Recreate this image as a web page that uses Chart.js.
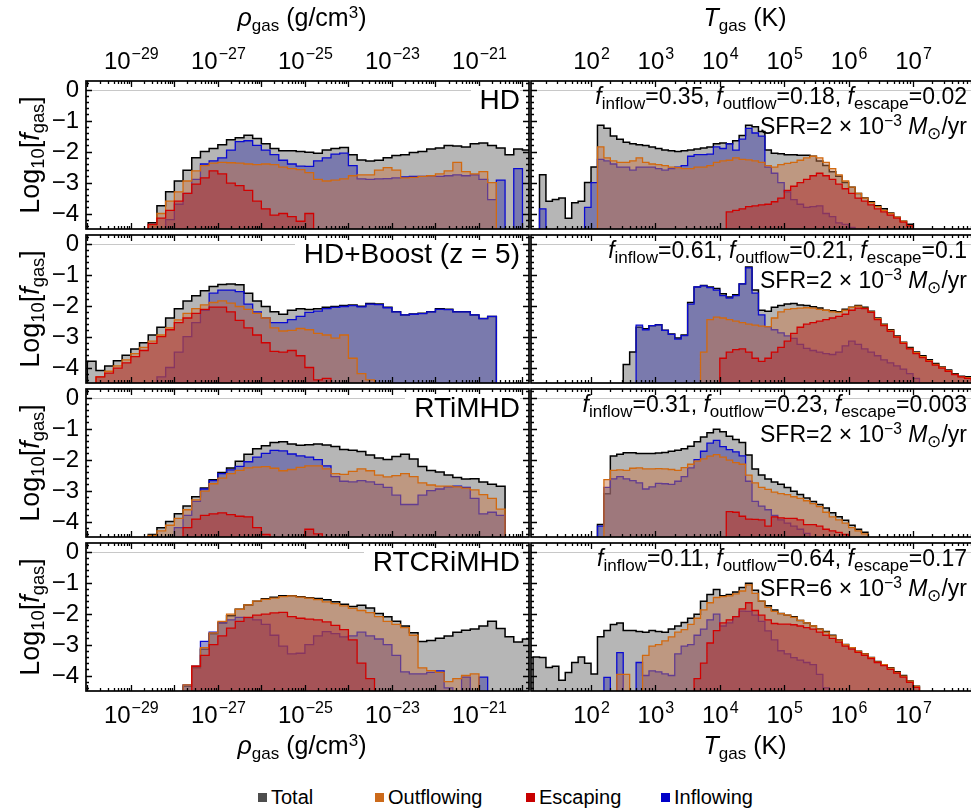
<!DOCTYPE html>
<html>
<head>
<meta charset="utf-8">
<script src="https://cdn.jsdelivr.net/npm/chart.js@4.4.1/dist/chart.umd.min.js"></script>
<style>
  html, body { margin: 0; padding: 0; background: #fff; }
  body { width: 971px; height: 811px; position: relative; overflow: hidden;
         font-family: "Liberation Sans", Arial, Helvetica, sans-serif; color: #000; }
  canvas { position: absolute; }
  .txt { position: absolute; white-space: nowrap; line-height: 1; }
  sub { font-size: 0.68em; vertical-align: -0.28em; line-height: 0; }
  sup { font-size: 0.68em; vertical-align: 0.5em; line-height: 0; }
  .title { font-size: 25px; text-align: center; width: 260px; }
  .ytitle { font-size: 27px; width: 180px; height: 30px; line-height: 30px; text-align: center; transform: rotate(-90deg); }
  .run { font-size: 28px; text-align: right; background: #fff; padding-left: 9px; }
  .ann { font-size: 23px; text-align: right; right: 4px; }
  .ann sub { font-size: 0.74em; }
  .leg { position: absolute; top: 787px; font-size: 20px; line-height: 20px; display: flex; align-items: center; white-space: nowrap; }
  .leg span { display: inline-block; width: 9px; height: 9px; margin-right: 4px; }
</style>
</head>
<body>
<script>
// ---------------------------------------------------
// data: log10 of gas fraction per bin (null = no gas, E = empty bin inside)
// ---------------------------------------------------
const _ = null;
const E = -9;
const pad = n => Array(n).fill(null);

// bin left edges, log10(rho) in 0.2 dex and log10(T) in 0.1 dex
const rhoBins = [-30.0,-29.8,-29.6,-29.4,-29.2,-29.0,-28.8,-28.6,-28.4,-28.2,-28.0,-27.8,-27.6,-27.4,-27.2,-27.0,-26.8,-26.6,-26.4,-26.2,-26.0,-25.8,-25.6,-25.4,-25.2,-25.0,-24.8,-24.6,-24.4,-24.2,-24.0,-23.8,-23.6,-23.4,-23.2,-23.0,-22.8,-22.6,-22.4,-22.2,-22.0,-21.8,-21.6,-21.4,-21.2,-21.0,-20.8,-20.6,-20.4,-20.2,-20.0];
const tBins = [1.0,1.1,1.2,1.3,1.4,1.5,1.6,1.7,1.8,1.9,2.0,2.1,2.2,2.3,2.4,2.5,2.6,2.7,2.8,2.9,3.0,3.1,3.2,3.3,3.4,3.5,3.6,3.7,3.8,3.9,4.0,4.1,4.2,4.3,4.4,4.5,4.6,4.7,4.8,4.9,5.0,5.1,5.2,5.3,5.4,5.5,5.6,5.7,5.8,5.9,6.0,6.1,6.2,6.3,6.4,6.5,6.6,6.7,6.8,6.9,7.0,7.1,7.2,7.3,7.4,7.5,7.6,7.7,7.8,7.9];
const rhoWidth = 0.2;
const tWidth = 0.1;

const rhoTickLabels = [-29, -27, -25, -23, -21];
const tTickLabels = [2, 3, 4, 5, 6, 7];
const yTicks = [0, -1, -2, -3, -4];

const runLabels = ['HD', 'HD+Boost (z = 5)', 'RTiMHD', 'RTCRiMHD'];
const fInflow = ['0.35', '0.61', '0.31', '0.11'];
const fOutflow = ['0.18', '0.21', '0.23', '0.64'];
const fEscape = ['0.02', '0.1', '0.003', '0.17'];
const sfrCoef = ['2', '2', '2', '6'];

// HD
const hdRhoTotal = [...pad(7),-4.3,-3.75,-3.3,-2.95,-2.6,-2.2,-2.0,-1.9,-1.78,-1.62,-1.55,-1.47,-1.58,-1.75,-1.9,-1.97,-1.97,-2.0,-2.02,-2.05,-1.95,-1.9,-1.87,-2.1,-2.27,-2.3,-2.28,-2.2,-2.13,-2.1,-2.03,-2.0,-1.92,-1.88,-1.8,-1.82,-1.85,-1.75,-1.72,-1.8,-1.88,-2.1,-1.92,-1.95];
const hdRhoOut = [...pad(7),-4.4,-4.0,-3.6,-3.3,-2.95,-2.62,-2.45,-2.37,-2.35,-2.36,-2.37,-2.4,-2.42,-2.4,-2.42,-2.5,-2.55,-2.58,-2.68,-2.9,-2.95,-2.92,-2.88,-2.78,-2.75,-2.75,-2.6,-2.52,-2.6,-2.85,-2.83,-2.8,-2.78,-2.72,-2.62,-2.35,-2.65,-2.72,-2.65,-3.0,...pad(4)];
const hdRhoEsc = [...pad(7),-4.35,-4.15,-3.9,-3.6,-3.35,-3.05,-2.85,-2.62,-2.72,-3.02,-3.1,-3.25,-3.6,-3.85,-4.05,-4.0,-4.1,-4.25,-4.0,...pad(25)];
const hdRhoIn = [...pad(9),-4.2,-3.7,-3.35,-2.9,-2.4,-2.3,-2.2,-1.95,-1.68,-1.65,-1.8,-1.95,-2.1,-2.28,-2.4,-2.47,-2.48,-2.3,-2.2,-2.08,-2.05,-2.45,-2.88,-2.9,-2.88,-2.87,-2.85,-2.82,-2.8,-2.8,-2.78,-2.8,-2.78,-2.75,-2.78,-2.75,-2.9,-3.55,-2.92,E,-2.55,_];
const hdTTotal = [_,_,-2.75,-3.6,-3.55,-3.5,-4.15,-3.65,-3.6,-3.0,-2.5,-1.15,-1.25,-1.5,-1.6,-1.7,-1.75,-1.78,-1.8,-1.85,-1.9,-1.95,-1.97,-2.0,-1.97,-1.95,-1.92,-1.88,-1.85,-1.75,-1.72,-1.75,-1.65,-1.48,-1.15,-1.2,-1.35,-1.95,-2.05,-2.07,-2.1,-2.1,-2.12,-2.12,-2.15,-2.3,-2.45,-2.65,-2.8,-3.0,-3.15,-3.35,-3.5,-3.62,-3.75,-3.85,-3.98,-4.12,-4.25,-4.35,...pad(10)];
const hdTIn = [_,_,-3.85,E,E,E,E,E,E,-3.8,-3.0,-2.25,-2.3,-2.4,-2.5,-2.5,-2.6,-2.5,-2.5,-2.5,-2.55,-2.6,-2.55,-2.5,-2.45,-2.15,-2.1,-2.1,-2.08,-1.85,-1.9,-1.75,-1.95,-1.6,-1.25,-1.4,-1.5,-2.5,-2.7,-3.0,-3.3,-3.55,-3.7,-3.8,-3.78,-3.75,-4.0,-4.1,-4.3,-4.35,-4.45,...pad(19)];
const hdTOut = [...pad(11),-1.85,-2.2,-2.3,-2.35,-2.35,-2.3,-2.2,-2.35,-2.4,-2.42,-2.45,-2.5,-2.52,-2.55,-2.55,-2.5,-2.5,-2.45,-2.35,-2.3,-2.28,-2.2,-2.25,-2.27,-2.3,-2.35,-2.45,-2.5,-2.42,-2.38,-2.35,-2.28,-2.2,-2.15,-2.2,-2.35,-2.55,-2.75,-2.95,-3.15,-3.35,-3.5,-3.65,-3.78,-3.9,-4.0,-4.12,-4.25,-4.4,...pad(10)];
const hdTEsc = [...pad(31),-3.95,-3.9,-3.85,-3.78,-3.75,-3.72,-3.7,-3.62,-3.5,-3.25,-3.12,-3.0,-2.9,-2.78,-2.7,-2.78,-2.9,-3.05,-3.2,-3.35,-3.5,-3.6,-3.72,-3.85,-3.95,-4.05,-4.15,-4.28,-4.4,...pad(10)];

// HD+Boost (z = 5)
const boostRhoTotal = [-3.8,-4.1,-3.95,-3.78,-3.6,-3.4,-3.2,-2.95,-2.7,-2.4,-2.1,-1.85,-1.68,-1.52,-1.38,-1.32,-1.3,-1.33,-1.6,-1.85,-2.03,-2.2,-2.28,-2.15,-2.1,-2.13,-2.1,-2.05,-2.03,-2.0,-1.98,-2.02,-1.93,-1.95,-2.05,-2.2,-2.3,-2.27,-2.25,-2.2,-2.1,-2.12,-2.2,-2.2,-2.3,-2.42,-2.35,...pad(4)];
const boostRhoIn = [...pad(8),-4.3,-4.0,-3.5,-3.0,-2.55,-2.15,-1.6,-1.5,-1.5,-1.55,-1.95,-2.2,-2.4,-2.55,-2.55,-2.45,-2.35,-2.22,-2.18,-2.1,-2.06,-2.03,-2.0,-2.04,-1.95,-1.97,-2.07,-2.2,-2.3,-2.28,-2.26,-2.2,-2.12,-2.13,-2.2,-2.2,-2.3,-2.42,-2.35,...pad(4)];
const boostRhoOut = [_,-4.3,-4.12,-3.95,-3.75,-3.55,-3.35,-3.15,-2.95,-2.72,-2.46,-2.25,-2.1,-1.98,-1.9,-1.85,-1.92,-2.03,-2.12,-2.25,-2.4,-2.72,-2.82,-2.8,-2.74,-2.78,-2.9,-2.95,-3.05,-2.95,-3.7,-4.2,-4.4,...pad(18)];
const boostRhoEsc = [_,-4.3,-4.18,-4.02,-3.85,-3.65,-3.45,-3.22,-3.0,-2.78,-2.55,-2.4,-2.25,-2.12,-2.05,-2.05,-2.2,-2.48,-2.72,-2.95,-3.2,-3.48,-3.5,-3.45,-3.62,-4.0,-4.4,-4.35,...pad(23)];
const boostTTotal = [...pad(15),-3.9,-3.5,-2.7,-2.75,-2.65,-2.62,-2.8,-2.92,-3.05,-2.95,-1.9,-1.4,-1.35,-1.4,-1.45,-1.62,-1.72,-1.65,-1.3,-0.75,-1.5,-2.15,-2.18,-2.05,-2.0,-1.95,-1.93,-1.98,-2.0,-2.04,-2.08,-2.15,-2.17,-2.2,-2.12,-2.05,-2.0,-2.05,-2.18,-2.4,-2.6,-2.78,-2.98,-3.18,-3.35,-3.5,-3.62,-3.75,-3.87,-3.98,-4.08,-4.2,-4.28,-4.3,-4.35];
const boostTIn = [...pad(17),-2.63,-2.78,-2.65,-2.62,-2.8,-2.93,-3.08,-2.97,-1.95,-1.4,-1.36,-1.42,-1.5,-1.68,-1.76,-1.68,-1.3,-0.78,-1.6,-2.3,-2.68,-2.78,-2.88,-2.98,-3.06,-3.25,-3.38,-3.45,-3.5,-3.55,-3.58,-3.5,-3.3,-3.15,-3.25,-3.4,-3.5,-3.62,-3.75,-3.85,-3.95,-4.05,-4.2,-4.35,...pad(9)];
const boostTOut = [...pad(27),-3.5,-2.45,-2.37,-2.4,-2.45,-2.5,-2.55,-2.6,-2.63,-2.66,-2.68,-2.4,-2.2,-2.12,-2.1,-2.08,-2.07,-2.08,-2.12,-2.15,-2.2,-2.22,-2.15,-2.06,-2.02,-2.08,-2.2,-2.42,-2.62,-2.8,-3.0,-3.2,-3.38,-3.52,-3.65,-3.78,-3.9,-4.0,-4.1,-4.22,-4.3,-4.33,-4.38];
const boostTEsc = [...pad(30),-3.7,-3.5,-3.42,-3.4,-3.5,-3.7,-3.8,-3.7,-3.5,-3.35,-3.15,-2.9,-2.7,-2.6,-2.55,-2.5,-2.45,-2.4,-2.35,-2.28,-2.15,-2.08,-2.1,-2.22,-2.45,-2.65,-2.83,-3.02,-3.22,-3.4,-3.55,-3.68,-3.8,-3.92,-4.02,-4.12,-4.23,-4.3,-4.35,-4.4];

// RTiMHD
const rtRhoTotal = [...pad(7),-4.42,-4.2,-4.0,-3.75,-3.5,-3.2,-2.92,-2.65,-2.42,-2.27,-2.05,-1.83,-1.65,-1.55,-1.45,-1.42,-1.5,-1.54,-1.52,-1.5,-1.53,-1.58,-1.67,-1.7,-1.74,-1.85,-1.95,-2.0,-1.9,-1.83,-1.98,-2.22,-2.35,-2.4,-2.5,-2.58,-2.63,-2.62,-2.72,-2.8,-2.86,_,_,_];
const rtRhoOut = [...pad(7),-4.45,-4.3,-4.12,-3.9,-3.62,-3.3,-3.02,-2.78,-2.6,-2.45,-2.35,-2.27,-2.24,-2.23,-2.28,-2.36,-2.32,-2.25,-2.2,-2.2,-2.3,-2.45,-2.48,-2.38,-2.3,-2.36,-2.5,-2.56,-2.52,-2.45,-2.55,-2.75,-2.82,-2.86,-2.86,-2.88,-2.92,-2.98,-3.13,-3.25,-3.6,_,_,_];
const rtRhoIn = [...pad(10),-4.2,-3.8,-3.35,-2.95,-2.68,-2.45,-2.33,-2.22,-2.07,-1.92,-1.8,-1.7,-1.72,-1.82,-1.88,-1.92,-2.0,-2.2,-2.55,-2.7,-2.72,-2.68,-2.72,-2.8,-2.9,-3.15,-3.45,-3.45,-3.15,-3.0,-2.95,-2.88,-2.86,-2.9,-3.25,-3.75,-3.7,-3.8,_,_,_];
const rtRhoEsc = [...pad(11),-4.2,-3.92,-3.8,-3.75,-3.72,-3.78,-3.83,-3.85,-4.2,-4.42,E,E,E,E,-4.25,-4.4,...pad(24)];
const rtTTotal = [...pad(11),-4.1,-3.1,-1.88,-1.83,-1.78,-1.78,-1.8,-1.8,-1.8,-1.79,-1.77,-1.73,-1.7,-1.65,-1.57,-1.42,-1.27,-1.13,-1.02,-1.1,-1.25,-1.35,-1.45,-1.85,-2.3,-2.5,-2.63,-2.72,-2.8,-2.9,-3.02,-3.13,-3.24,-3.35,-3.45,-3.56,-3.72,-3.85,-3.96,-4.12,-4.25,-4.35,...pad(17)];
const rtTIn = [...pad(11),-4.15,-2.9,-2.62,-2.55,-2.62,-2.68,-2.75,-2.95,-2.88,-2.77,-2.78,-2.8,-2.7,-2.55,-2.27,-2.0,-1.73,-1.47,-1.38,-1.58,-1.68,-1.75,-1.88,-2.7,-3.35,-3.5,-3.62,-3.8,-3.95,-4.05,-4.15,-4.25,-4.38,...pad(26)];
const rtTOut = [...pad(12),-2.65,-2.35,-2.33,-2.35,-2.28,-2.27,-2.3,-2.3,-2.29,-2.3,-2.32,-2.35,-2.26,-2.15,-2.05,-1.98,-1.89,-1.84,-1.92,-2.02,-2.1,-2.15,-2.5,-2.75,-2.9,-2.96,-3.05,-3.1,-3.13,-3.2,-3.25,-3.33,-3.42,-3.52,-3.7,-3.85,-3.95,-4.05,-4.2,-4.3,-4.4,...pad(17)];
const rtTEsc = [...pad(31),-3.68,-3.7,-3.83,-3.92,-3.93,-3.95,-4.15,-3.85,-3.88,-3.9,-3.9,-3.95,-4.1,-4.1,-4.15,-4.25,-4.3,-4.35,-4.42,...pad(20)];

// RTCRiMHD
const crRhoTotal = [...pad(11),-4.35,-3.75,-3.15,-2.65,-2.3,-2.07,-1.86,-1.72,-1.6,-1.52,-1.47,-1.42,-1.42,-1.46,-1.49,-1.51,-1.55,-1.62,-1.7,-1.77,-1.73,-1.82,-2.0,-2.1,-2.25,-2.4,-2.62,-2.9,-2.87,-2.8,-2.72,-2.6,-2.54,-2.5,-2.4,-2.25,-2.48,-2.75,-2.92,-2.82];
const crRhoOut = [...pad(11),-4.3,-3.7,-3.1,-2.62,-2.25,-2.02,-1.86,-1.72,-1.6,-1.54,-1.5,-1.45,-1.43,-1.47,-1.5,-1.55,-1.62,-1.68,-1.75,-1.83,-1.9,-1.97,-2.1,-2.25,-2.35,-2.45,-2.7,-3.75,-3.84,-3.9,-4.2,-4.1,-4.0,-3.95,...pad(6)];
const crRhoEsc = [...pad(12),-3.7,-3.35,-3.0,-2.72,-2.47,-2.25,-2.12,-2.05,-2.02,-1.98,-1.96,-2.1,-2.15,-2.18,-2.2,-2.27,-2.38,-2.52,-2.85,-3.6,-4.1,...pad(18)];
const crRhoIn = [...pad(11),-4.3,-3.7,-2.9,-2.6,-2.3,-2.2,-2.12,-2.13,-2.2,-2.35,-2.7,-3.05,-3.3,-3.28,-3.0,-2.72,-2.58,-2.65,-2.75,-2.72,-2.6,-2.72,-2.82,-3.0,-3.35,-3.88,-3.95,-3.95,-3.9,-3.85,-4.4,E,-4.05,E,-4.05,...pad(5)];
const crTTotal = [_,-3.4,-3.42,-3.74,-3.7,-4.15,-3.9,-3.58,-3.4,-3.6,-3.95,-2.75,-2.55,-2.35,-2.3,-2.55,-2.55,-2.58,-2.6,-2.55,-2.58,-2.6,-2.5,-2.4,-2.29,-2.15,-2.02,-1.6,-1.38,-1.22,-1.42,-1.38,-1.3,-1.16,-1.02,-1.25,-1.6,-1.75,-1.88,-2.0,-2.05,-2.1,-2.22,-2.3,-2.4,-2.5,-2.58,-2.7,-2.85,-3.0,-3.1,-3.22,-3.3,-3.42,-3.55,-3.65,-3.75,-3.88,-4.0,-4.18,-4.35,...pad(9)];
const crTIn = [...pad(12),-4.06,E,-3.26,E,E,-3.58,-4.0,-3.85,-3.88,-3.95,-4.0,-3.3,-3.05,-3.0,-2.7,-2.5,-2.2,-2.02,-2.4,-2.3,-2.1,-1.92,-1.93,-2.05,-2.25,-2.56,-2.85,-3.2,-3.3,-3.42,-3.5,-3.58,-3.65,-3.96,-4.4,...pad(23)];
const crTOut = [...pad(14),-3.96,-3.96,E,E,-3.35,-3.05,-3.0,-2.88,-2.75,-2.6,-2.52,-2.35,-2.15,-1.88,-1.65,-1.48,-1.45,-1.43,-1.36,-1.27,-1.07,-1.35,-1.6,-1.8,-1.93,-2.0,-2.05,-2.12,-2.22,-2.3,-2.4,-2.5,-2.6,-2.72,-2.86,-3.0,-3.1,-3.22,-3.3,-3.42,-3.56,-3.65,-3.76,-3.9,-4.02,-4.18,-4.35,...pad(9)];
const crTEsc = [...pad(26),-4.1,-3.6,-2.95,-2.55,-2.3,-2.2,-2.1,-1.85,-1.65,-1.9,-2.05,-2.2,-2.32,-2.34,-2.34,-2.36,-2.4,-2.45,-2.5,-2.6,-2.7,-2.8,-2.92,-3.05,-3.15,-3.25,-3.35,-3.45,-3.58,-3.68,-3.8,-3.92,-4.05,-4.22,-4.38,...pad(9)];

/* ---------------------------------------------------
   LAYOUT / STYLES
--------------------------------------------------- */
const FONT = '"Liberation Sans", Arial, Helvetica, sans-serif';
const rowTops = [81, 235, 389, 543];
const plotH = 148;
const cols = [
  { left: 86, width: 443, min: -30.03, max: -19.85, bins: rhoBins, w: rhoWidth, labels: rhoTickLabels },
  { left: 531, width: 449, min: 1.068, max: 8.04, bins: tBins, w: tWidth, labels: tTickLabels }
];
// drawing order: higher "order" is painted first
const styles = {
  total: { line: '#000000', fill: 'rgba(100,100,100,0.47)', w: 1.5, order: 4 },
  inflow: { line: '#0a0ad2', fill: 'rgba(72,72,165,0.55)', w: 1.3, order: 3 },
  outflow: { line: '#d2690f', fill: 'rgba(200,120,70,0.47)', w: 1.3, order: 2 },
  escape: { line: '#d20000', fill: 'rgba(172,45,50,0.5)', w: 1.3, order: 1 }
};
const panels = [
  [[hdRhoTotal, hdRhoIn, hdRhoOut, hdRhoEsc], [hdTTotal, hdTIn, hdTOut, hdTEsc]],
  [[boostRhoTotal, boostRhoIn, boostRhoOut, boostRhoEsc], [boostTTotal, boostTIn, boostTOut, boostTEsc]],
  [[rtRhoTotal, rtRhoIn, rtRhoOut, rtRhoEsc], [rtTTotal, rtTIn, rtTOut, rtTEsc]],
  [[crRhoTotal, crRhoIn, crRhoOut, crRhoEsc], [crTTotal, crTIn, crTOut, crTEsc]]
];
const seriesKeys = ['total', 'inflow', 'outflow', 'escape'];

// step outline of a histogram, closed down to below the axis at both ends
function histPoints(bins, w, vals) {
  const used = vals.map((v, i) => (v === null ? -1 : i)).filter(i => i >= 0);
  const first = used[0], last = used[used.length - 1];
  const pts = [{ x: bins[first], y: E }];
  for (let i = first; i <= last; i++) {
    const v = vals[i] === null ? E : vals[i];
    pts.push({ x: bins[i], y: v }, { x: bins[i] + w, y: v });
  }
  pts.push({ x: bins[last] + w, y: E });
  return pts;
}

function drawPower(ctx, x, yBase, exp) {
  const sup = (exp < 0 ? '\u2212' : '') + Math.abs(exp);
  ctx.font = '24px ' + FONT;
  const wb = ctx.measureText('10').width;
  ctx.font = '16px ' + FONT;
  const ws = ctx.measureText(sup).width;
  const x0 = x - (wb + ws) / 2;
  ctx.font = '24px ' + FONT;
  ctx.fillText('10', x0, yBase);
  ctx.font = '16px ' + FONT;
  ctx.fillText(sup, x0 + wb + 1, yBase - 10);
}

const framePlugin = {
  id: 'frame',
  beforeDatasetsDraw(chart) {
    const { ctx, chartArea: a, scales: { y } } = chart;
    const y0 = Math.round(y.getPixelForValue(0)) + 0.5;
    ctx.save();
    ctx.strokeStyle = '#c8c8c8';
    ctx.lineWidth = 1;
    ctx.beginPath(); ctx.moveTo(a.left, y0); ctx.lineTo(a.right, y0); ctx.stroke();
    ctx.restore();
  },
  afterDatasetsDraw(chart, args, opts) {
    const { ctx, chartArea: a, scales: { x, y } } = chart;
    ctx.save();
    ctx.strokeStyle = '#000';
    ctx.lineWidth = 1.3;
    ctx.beginPath();
    // log ticks along top and bottom, pointing inward
    for (let d = Math.floor(x.min); d <= Math.ceil(x.max); d++) {
      for (let k = 1; k <= 9; k++) {
        const v = d + Math.log10(k);
        if (v < x.min || v > x.max) continue;
        const px = Math.round(x.getPixelForValue(v)) + 0.5;
        const len = k === 1 ? 6 : 3;
        ctx.moveTo(px, a.top); ctx.lineTo(px, a.top + len);
        ctx.moveTo(px, a.bottom); ctx.lineTo(px, a.bottom - len);
      }
    }
    // y ticks every 0.2
    for (let j = Math.ceil(y.min * 5); j <= Math.floor(y.max * 5); j++) {
      const py = Math.round(y.getPixelForValue(j / 5)) + 0.5;
      const len = j % 5 === 0 ? 6 : 3;
      ctx.moveTo(a.left, py); ctx.lineTo(a.left + len, py);
      ctx.moveTo(a.right, py); ctx.lineTo(a.right - len, py);
    }
    ctx.stroke();
    ctx.lineWidth = 1.7;
    ctx.strokeRect(a.left, a.top, a.right - a.left, a.bottom - a.top);

    ctx.fillStyle = '#000';
    ctx.textAlign = 'left';
    ctx.textBaseline = 'alphabetic';
    if (opts.topLabels) opts.xLabels.forEach(e => drawPower(ctx, x.getPixelForValue(e), a.top - 12, e));
    if (opts.bottomLabels) opts.xLabels.forEach(e => drawPower(ctx, x.getPixelForValue(e), a.bottom + 32, e));
    if (opts.yLabels) {
      ctx.font = '24px ' + FONT;
      ctx.textAlign = 'right';
      ctx.textBaseline = 'middle';
      yTicks.forEach(v => ctx.fillText(v === 0 ? '0' : '\u2212' + Math.abs(v), a.left - 7, y.getPixelForValue(v) + 1));
    }
    ctx.restore();
  }
};

/* ---------------------------------------------------
   CHARTS
--------------------------------------------------- */
panels.forEach((row, r) => {
  row.forEach((series, c) => {
    const col = cols[c];
    const padL = c === 0 ? 72 : 4, padR = 4;
    const padT = r === 0 ? 62 : 4, padB = r === 3 ? 46 : 4;
    const cv = document.createElement('canvas');
    cv.width = padL + col.width + padR;
    cv.height = padT + plotH + padB;
    cv.style.width = cv.width + 'px';
    cv.style.height = cv.height + 'px';
    cv.style.left = (col.left - padL) + 'px';
    cv.style.top = (rowTops[r] - padT) + 'px';
    document.body.appendChild(cv);

    const datasets = series.map((vals, k) => {
      const st = styles[seriesKeys[k]];
      return {
        data: histPoints(col.bins, col.w, vals),
        borderColor: st.line,
        backgroundColor: st.fill,
        borderWidth: st.w,
        fill: 'start',
        pointRadius: 0,
        tension: 0,
        order: st.order
      };
    });

    new Chart(cv, {
      type: 'line',
      data: { datasets },
      options: {
        responsive: false,
        animation: false,
        devicePixelRatio: 1,
        events: [],
        layout: { padding: { left: padL, right: padR, top: padT, bottom: padB } },
        plugins: {
          legend: { display: false },
          tooltip: { enabled: false },
          frame: { xLabels: col.labels, topLabels: r === 0, bottomLabels: r === 3, yLabels: c === 0 }
        },
        scales: {
          x: { type: 'linear', min: col.min, max: col.max, display: false },
          y: { type: 'linear', min: -4.5, max: 0.28, display: false }
        }
      },
      plugins: [framePlugin]
    });
  });
});

/* ---------------------------------------------------
   TEXT
--------------------------------------------------- */
function addText(cls, html, style) {
  const d = document.createElement('div');
  d.className = 'txt ' + cls;
  d.innerHTML = html;
  Object.assign(d.style, style);
  document.body.appendChild(d);
  return d;
}
const rhoTitle = '<i>\u03c1</i><sub>gas</sub> (g/cm<sup>3</sup>)';
const tTitle = '<i>T</i><sub>gas</sub> (K)';
addText('title', rhoTitle, { left: '172px', top: '5px' });
addText('title', tTitle, { left: '615px', top: '5px' });
addText('title', rhoTitle, { left: '172px', top: '733px' });
addText('title', tTitle, { left: '615px', top: '733px' });

rowTops.forEach((top, r) => {
  addText('ytitle', 'Log<sub>10</sub>[<i>f</i><sub>gas</sub>]', { left: '-60px', top: (top + 74 - 15) + 'px' });
  addText('run', runLabels[r], { right: (971 - 520) + 'px', top: (top + 5) + 'px' });
  addText('ann', '<i>f</i><sub>inflow</sub>=' + fInflow[r] + ', <i>f</i><sub>outflow</sub>=' + fOutflow[r] +
    ', <i>f</i><sub>escape</sub>=' + fEscape[r], { top: (top + 4) + 'px' });
  addText('ann', 'SFR=' + sfrCoef[r] + ' \u00d7 10<sup>\u22123</sup> <i>M</i><sub>\u2299</sub>/yr', { top: (top + 34) + 'px' });
});

// legend
const legendItems = [
  { label: 'Total', color: '#4d4d4d', left: 258 },
  { label: 'Outflowing', color: '#cc6a1a', left: 375 },
  { label: 'Escaping', color: '#c80000', left: 526 },
  { label: 'Inflowing', color: '#0000c8', left: 661 }
];
legendItems.forEach(it => {
  const d = document.createElement('div');
  d.className = 'leg';
  d.style.left = it.left + 'px';
  d.innerHTML = '<span style="background:' + it.color + '"></span>' + it.label;
  document.body.appendChild(d);
});
</script>
</body>
</html>
